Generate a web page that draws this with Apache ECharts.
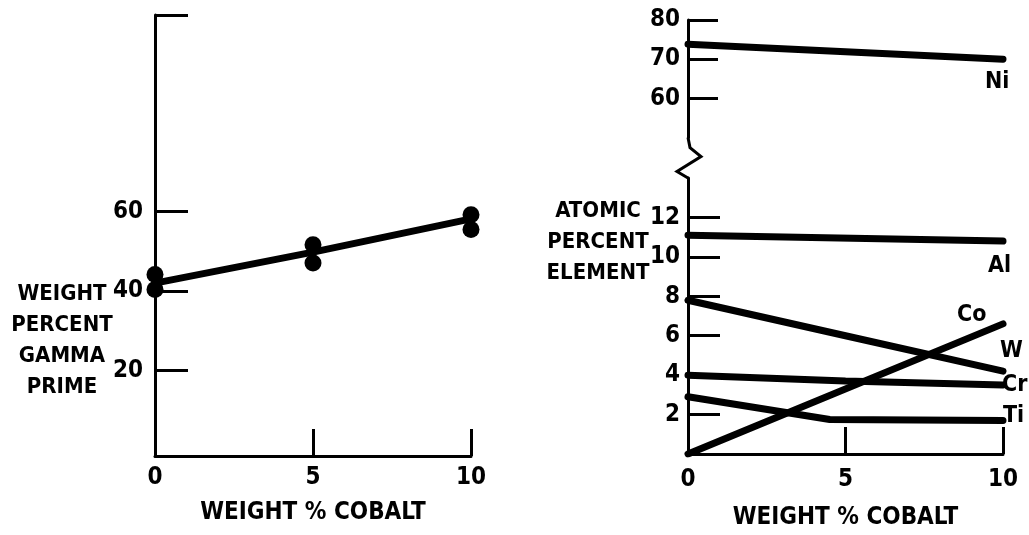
<!DOCTYPE html>
<html><head><meta charset="utf-8">
<script src="https://cdn.jsdelivr.net/npm/echarts@6/dist/echarts.min.js"></script>
<style>html,body{margin:0;padding:0;background:#fff}#c{width:1029px;height:535px}</style>
</head><body><div id="c"></div>
<script>
// ---- data ----
const cobaltX = [0, 5, 10];
const gammaFit = [42.0, 49.8, 58.2];
const gammaHigh = [44.2, 51.7, 59.2];
const gammaLow = [40.4, 47.1, 55.5];

const niX = [0, 10];      const niY = [73.8, 70.0];
const alX = [0, 10];      const alY = [11.1, 10.8];
const wX = [0, 5, 10];    const wY = [7.8, 6.0, 4.2];
const crX = [0, 5, 10];   const crY = [4.0, 3.7, 3.5];
const tiX = [0, 4.5, 10]; const tiY = [2.9, 1.75, 1.7];
const coX = [0, 10];      const coY = [0, 6.6];

const leftYTicks = [20, 40, 60];
const upperYTicks = [60, 70, 80];
const lowerYTicks = [2, 4, 6, 8, 10, 12];
const xTicks = [5, 10];
const xLabels = [0, 5, 10];

// ---- style ----
const FONT = "'Liberation Sans Narrow','DejaVu Sans Condensed','Liberation Sans',sans-serif";
const INK = '#000';
const txt = (size) => ({ color: INK, fontFamily: FONT, fontWeight: 'bold', fontSize: size });
const pairs = (xs, ys) => xs.map((x, i) => [x, ys[i]]);

function xAx(grid, name, show, gap, lblMargin) {
  return {
    type: 'value', gridIndex: grid, min: 0, max: 10, show: show,
    name: name, nameLocation: 'middle', nameGap: gap, nameTextStyle: txt(24),
    axisLine: { show: true, onZero: false, lineStyle: { color: INK, width: 3 } },
    axisTick: { show: true, inside: true, length: 27, customValues: xTicks, lineStyle: { color: INK, width: 3 } },
    axisLabel: Object.assign({ customValues: xLabels, margin: lblMargin }, txt(24)),
    splitLine: { show: false }
  };
}
function yAx(grid, min, max, ticks, labels, len, margin) {
  return {
    type: 'value', gridIndex: grid, min: min, max: max,
    axisLine: { show: true, onZero: false, lineStyle: { color: INK, width: 3 } },
    axisTick: { show: true, inside: true, length: len, customValues: ticks, lineStyle: { color: INK, width: 3 } },
    axisLabel: Object.assign({ customValues: labels, margin: margin }, txt(24)),
    splitLine: { show: false }
  };
}
function lineS(name, xs, ys, off) {
  return {
    type: 'line', name: name, xAxisIndex: name === 'Ni' ? 1 : 2, yAxisIndex: name === 'Ni' ? 1 : 2,
    data: pairs(xs, ys), showSymbol: false, symbol: 'none', silent: true,
    lineStyle: { color: INK, width: 7, cap: 'round' },
    endLabel: Object.assign({ show: true, formatter: name, distance: 0, offset: off, align: 'left', verticalAlign: 'middle' }, txt(23)),
    animation: false
  };
}

const chart = echarts.init(document.getElementById('c'), null, { renderer: 'canvas' });
const option = {
  backgroundColor: '#fff',
  animation: false,
  grid: [
    { left: 155, top: 15, width: 316, height: 441 },
    { left: 688, top: 20, width: 315, height: 117.5 },
    { left: 688, top: 178, width: 315, height: 282 }
  ],
  title: [
    { text: 'WEIGHT\nPERCENT\nGAMMA\nPRIME', left: 57, top: 274, textAlign: 'center',
      textStyle: Object.assign({ lineHeight: 31, align: 'center' }, txt(22)) },
    { text: 'ATOMIC\nPERCENT\nELEMENT', left: 593, top: 191, textAlign: 'center',
      textStyle: Object.assign({ lineHeight: 31, align: 'center' }, txt(22)) }
  ],
  xAxis: [
    xAx(0, 'WEIGHT % COBALT', true, 45, 10),
    xAx(1, '', false, 0, 0),
    xAx(2, 'WEIGHT % COBALT', true, 52, 14)
  ],
  yAxis: [
    yAx(0, -1.5, 109.5, leftYTicks.concat([109.5]), leftYTicks, 33, 12),
    yAx(1, 50, 80, upperYTicks, upperYTicks, 30, 8),
    yAx(2, 0, 14, lowerYTicks, lowerYTicks, 32, 8)
  ],
  series: [
    { type: 'line', xAxisIndex: 0, yAxisIndex: 0, data: pairs(cobaltX, gammaFit), showSymbol: false, symbol: 'none',
      lineStyle: { color: INK, width: 7, cap: 'round' }, silent: true },
    { type: 'scatter', xAxisIndex: 0, yAxisIndex: 0, data: pairs(cobaltX, gammaHigh), symbolSize: 17,
      itemStyle: { color: INK, opacity: 1 }, silent: true },
    { type: 'scatter', xAxisIndex: 0, yAxisIndex: 0, data: pairs(cobaltX, gammaLow), symbolSize: 17,
      itemStyle: { color: INK, opacity: 1 }, silent: true },
    lineS('Ni', niX, niY, [-18, 23]),
    lineS('Al', alX, alY, [-15, 25]),
    lineS('Co', coX, coY, [-46, -9]),
    lineS('W', wX, wY, [-3, -20]),
    lineS('Cr', crX, crY, [-1, 0]),
    lineS('Ti', tiX, tiY, [0, -4])
  ]
};
chart.setOption(option);

// axis break mark (zigzag) between the two right-hand panels
const pTop = chart.convertToPixel({ gridIndex: 1 }, [0, 50]);
const pBot = chart.convertToPixel({ gridIndex: 2 }, [0, 14]);
const x0 = pTop[0], y1 = pTop[1], y2 = pBot[1], h = y2 - y1;
chart.setOption({
  graphic: [{
    type: 'polyline', silent: true,
    shape: { points: [[x0, y1], [x0 + 2, y1 + h * 0.25], [x0 + 13, y1 + h * 0.47], [x0 - 11, y1 + h * 0.84], [x0, y2]] },
    style: { stroke: INK, lineWidth: 3, fill: null, lineJoin: 'miter' }
  }]
});
</script>
</body></html>
